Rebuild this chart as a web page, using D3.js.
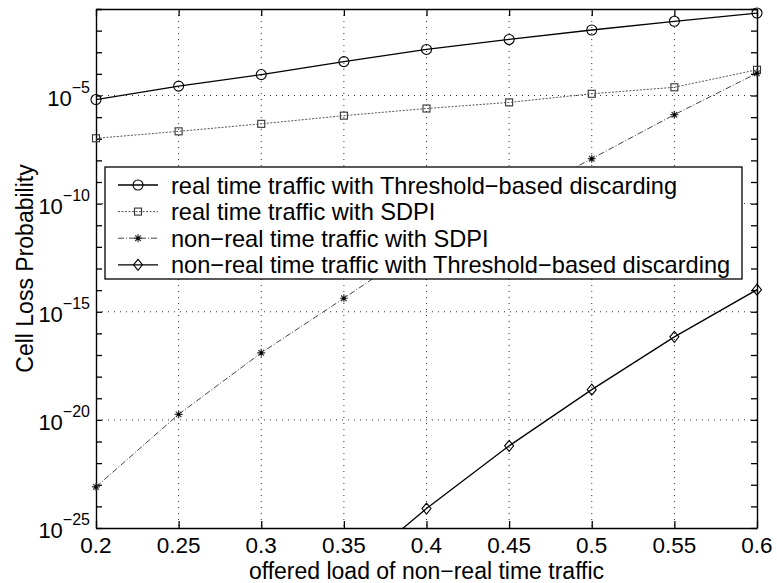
<!DOCTYPE html>
<html>
<head>
<meta charset="utf-8">
<script src="https://cdn.jsdelivr.net/npm/d3@7/dist/d3.min.js"></script>
<style>
  html, body { margin: 0; padding: 0; background: #fff; }
  svg { display: block; font-family: "Liberation Sans", Arial, Helvetica, sans-serif; }
</style>
</head>
<body>
<svg id="chart" width="777" height="583"></svg>
<script>
// Offered load of non-real time traffic
const loads = [0.2, 0.25, 0.3, 0.35, 0.4, 0.45, 0.5, 0.55, 0.6];

// Cell loss probability per series (null = not computed)
const rtThreshold  = [6.5e-6, 2.7e-5, 9.3e-5, 3.7e-4, 1.35e-3, 3.9e-3, 1.07e-2, 2.7e-2, 6.5e-2];
const rtSdpi       = [1.05e-7, 2.2e-7, 4.9e-7, 1.17e-6, 2.5e-6, 4.8e-6, 1.2e-5, 2.4e-5, 1.55e-4];
const nrtSdpi      = [7.9e-24, 1.8e-20, 1.26e-17, 4.2e-15, 1.6e-12, 1.1e-10, 1.2e-8, 1.3e-6, 1.07e-4];
const nrtThreshold = [null, null, null, 5e-28, 7.9e-25, 6.3e-22, 2.5e-19, 6.9e-17, 1.05e-14];

const xTicks = [0.2, 0.25, 0.3, 0.35, 0.4, 0.45, 0.5, 0.55, 0.6];
const xTickLabels = ["0.2", "0.25", "0.3", "0.35", "0.4", "0.45", "0.5", "0.55", "0.6"];
const yLabelExps = [-5, -10, -15, -20, -25];

const seriesNames = [
  "real time traffic with Threshold\u2212based discarding",
  "real time traffic with SDPI",
  "non\u2212real time traffic with SDPI",
  "non\u2212real time traffic with Threshold\u2212based discarding"
];

const series = [
  { name: seriesNames[0], values: rtThreshold,  marker: "circle",  stroke: "#000", width: 1.3, dash: null },
  { name: seriesNames[1], values: rtSdpi,       marker: "square",  stroke: "#555", width: 1.0, dash: "2,1.5" },
  { name: seriesNames[2], values: nrtSdpi,      marker: "star",    stroke: "#444", width: 1.0, dash: "6,2,1,2" },
  { name: seriesNames[3], values: nrtThreshold, marker: "diamond", stroke: "#000", width: 1.3, dash: null }
];

const svg = d3.select("#chart");
const pLeft = 96, pRight = 757, pTop = 9, pBottom = 528;

const x = d3.scaleLinear().domain([0.2, 0.6]).range([pLeft, pRight]);
const y = d3.scaleLog().domain([1e-25, 1e-1]).range([pBottom, pTop]);

const decades = d3.range(-25, 0).map(e => Math.pow(10, e));

// dotted grid
const grid = svg.append("g");
grid.selectAll("line.gx").data(xTicks.slice(1, -1)).join("line")
  .attr("x1", d => x(d)).attr("x2", d => x(d))
  .attr("y1", pTop).attr("y2", pBottom)
  .attr("stroke", "#333").attr("stroke-width", 1).attr("stroke-dasharray", "1,5");
grid.selectAll("line.gy").data(yLabelExps.filter(e => e > -25)).join("line")
  .attr("x1", pLeft).attr("x2", pRight)
  .attr("y1", d => y(Math.pow(10, d))).attr("y2", d => y(Math.pow(10, d)))
  .attr("stroke", "#333").attr("stroke-width", 1).attr("stroke-dasharray", "1,5");

// axes with inward ticks on all four sides
const axisStyle = g => {
  g.selectAll("path").attr("stroke", "#000").attr("stroke-width", 1.4);
  g.selectAll("line").attr("stroke", "#000").attr("stroke-width", 1.3);
};
svg.append("g").attr("transform", `translate(0,${pBottom})`)
  .call(d3.axisBottom(x).tickValues(xTicks).tickSize(-7).tickSizeOuter(0).tickFormat(""))
  .call(axisStyle);
svg.append("g").attr("transform", `translate(0,${pTop})`)
  .call(d3.axisTop(x).tickValues(xTicks).tickSize(-7).tickSizeOuter(0).tickFormat(""))
  .call(axisStyle);
svg.append("g").attr("transform", `translate(${pLeft},0)`)
  .call(d3.axisLeft(y).tickValues(decades.concat([1e-1])).tickSize(-6).tickSizeOuter(0).tickFormat(""))
  .call(axisStyle);
svg.append("g").attr("transform", `translate(${pRight},0)`)
  .call(d3.axisRight(y).tickValues(decades.concat([1e-1])).tickSize(-6).tickSizeOuter(0).tickFormat(""))
  .call(axisStyle);

// x tick labels
svg.append("g").selectAll("text").data(xTicks).join("text")
  .attr("x", d => x(d)).attr("y", 553)
  .attr("text-anchor", "middle").attr("font-size", 22.5)
  .text((d, i) => xTickLabels[i]);

// y tick labels: 10 with superscript exponent
const yl = svg.append("g").selectAll("text").data(yLabelExps).join("text")
  .attr("x", pLeft - 6).attr("y", d => y(Math.pow(10, d)) + 10)
  .attr("text-anchor", "end").attr("font-size", 22);
yl.append("tspan").text("10");
yl.append("tspan").attr("dy", -13).attr("font-size", 16).text(d => "\u2212" + Math.abs(d));

// axis titles
svg.append("text")
  .attr("x", (pLeft + pRight) / 2).attr("y", 579)
  .attr("text-anchor", "middle").attr("font-size", 23)
  .text("offered load of non\u2212real time traffic");
svg.append("text")
  .attr("transform", `translate(33,${(pTop + pBottom) / 2}) rotate(-90)`)
  .attr("text-anchor", "middle").attr("font-size", 23)
  .text("Cell Loss Probability");

// clip lines to the axes box
svg.append("clipPath").attr("id", "plotclip")
  .append("rect").attr("x", pLeft).attr("y", pTop).attr("width", pRight - pLeft).attr("height", pBottom - pTop);

const line = d3.line()
  .defined(d => d.v !== null)
  .x(d => x(d.x)).y(d => y(d.v));

function drawMarker(g, type, cx, cy, stroke) {
  const m = g.append("g").attr("transform", `translate(${cx},${cy})`)
    .attr("fill", "none").attr("stroke", stroke).attr("stroke-width", 1.1);
  if (type === "circle") {
    m.append("circle").attr("r", 5);
  } else if (type === "square") {
    m.append("rect").attr("x", -3.5).attr("y", -3.5).attr("width", 7).attr("height", 7);
  } else if (type === "diamond") {
    m.append("path").attr("d", "M0,-5.5L4.5,0L0,5.5L-4.5,0Z");
  } else if (type === "star") {
    const r = 4;
    m.append("path").attr("stroke-width", 1.2)
      .attr("d", `M${-r},0H${r}M0,${-r}V${r}M${-r*0.7},${-r*0.7}L${r*0.7},${r*0.7}M${-r*0.7},${r*0.7}L${r*0.7},${-r*0.7}`);
    m.append("circle").attr("r", 1.6).attr("fill", "#000").attr("stroke", "none");
  }
}

const plot = svg.append("g");
series.forEach(s => {
  const pts = loads.map((l, i) => ({ x: l, v: s.values[i] }));
  plot.append("path").datum(pts)
    .attr("clip-path", "url(#plotclip)")
    .attr("fill", "none").attr("stroke", s.stroke).attr("stroke-width", s.width)
    .attr("stroke-dasharray", s.dash)
    .attr("d", line);
  const mg = plot.append("g");
  pts.filter(p => p.v !== null && p.v >= 1e-25 && p.v <= 1e-1)
    .forEach(p => drawMarker(mg, s.marker, x(p.x), y(p.v), s.stroke === "#000" ? "#000" : "#333"));
});

// legend
const lg = svg.append("g");
const lx = 105, ly = 167, lw = 637, lh = 112;
lg.append("rect").attr("x", lx).attr("y", ly).attr("width", lw).attr("height", lh)
  .attr("fill", "#fff").attr("stroke", "#000").attr("stroke-width", 1.3);
series.forEach((s, i) => {
  const cy = 185 + i * 26.6;
  lg.append("line").attr("x1", 118).attr("x2", 158).attr("y1", cy).attr("y2", cy)
    .attr("stroke", s.stroke).attr("stroke-width", s.width).attr("stroke-dasharray", s.dash);
  drawMarker(lg, s.marker, 138, cy, s.stroke === "#000" ? "#000" : "#333");
  lg.append("text").attr("x", 171).attr("y", cy + 8.5).attr("font-size", 23.6).text(s.name);
});
</script>
</body>
</html>
